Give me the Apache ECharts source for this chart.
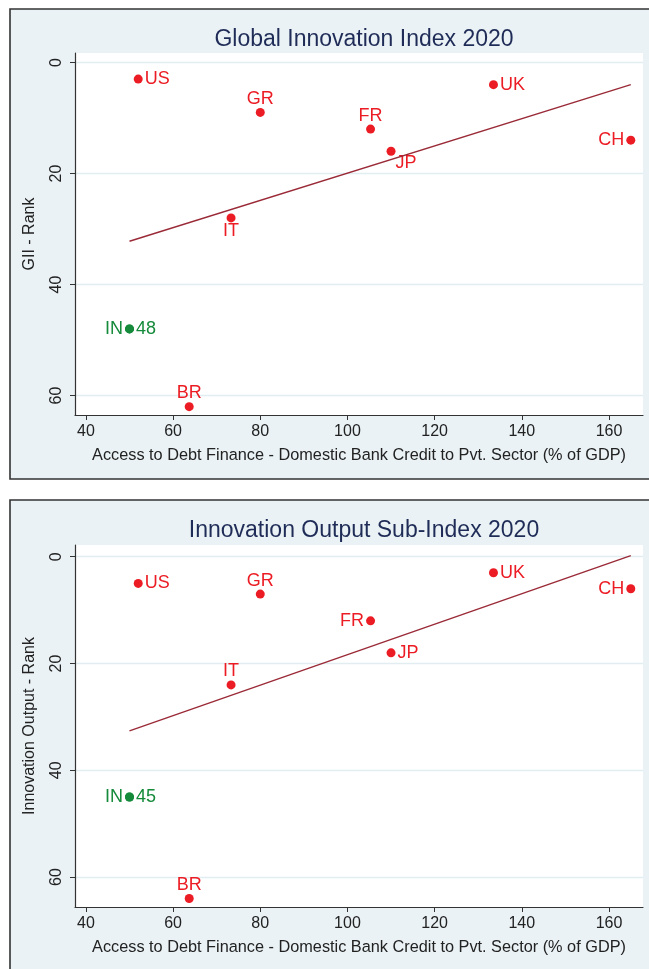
<!DOCTYPE html>
<html>
<head>
<meta charset="utf-8">
<script src="https://cdn.jsdelivr.net/npm/echarts@6/dist/echarts.min.js"></script>
<style>
html,body{margin:0;padding:0;background:#ffffff;}
#chart{width:649px;height:969px;}
</style>
</head>
<body>
<div id="chart"></div>
<script>
// ---- data ----
const countries = ['US', 'UK', 'GR', 'FR', 'JP', 'CH', 'IT', 'BR'];
const credit = [52, 133.5, 80, 105.3, 110, 165, 73.3, 63.7];
const giiRank = [3, 4, 9, 12, 16, 14, 28, 62];
const outputRank = [5, 3, 7, 12, 18, 6, 24, 64];
const indiaName = 'IN';
const indiaCredit = 50;
const indiaGii = 48;
const indiaOutput = 45;
const fitX = [50, 165];
const giiFitY = [32.2, 4.0];
const outputFitY = [32.6, -0.2];
const yTicks = [0, 20, 40, 60];
const xTicks = [40, 60, 80, 100, 120, 140, 160];
const titles = ['Global Innovation Index 2020', 'Innovation Output Sub-Index 2020'];
const yNames = ['GII - Rank', 'Innovation Output - Rank'];
const xName = 'Access to Debt Finance - Domestic Bank Credit to Pvt. Sector (% of GDP)';

// ---- styling / layout ----
const FONT = 'Liberation Sans, Arial, sans-serif';
const RED = '#ec1c24';
const GREEN = '#148a3a';
const FITC = '#9a2a37';
const LBL = 18;
const labelPos1 = {US:'right', UK:'right', GR:'top', FR:'top', JP:'jp', CH:'left', IT:'bottom', BR:'top'};
const labelPos2 = {US:'right', UK:'right', GR:'top', FR:'left', JP:'right', CH:'left', IT:'top', BR:'top'};
const panels = [
  {top: 53, height: 362, ymin: -1.7, ymax: 63.5, rank: giiRank, fit: giiFitY, india: indiaGii, pos: labelPos1, titleTop: 23},
  {top: 545, height: 362, ymin: -2.2, ymax: 65.6, rank: outputRank, fit: outputFitY, india: indiaOutput, pos: labelPos2, titleTop: 514}
];

function pointLabel(pos) {
  const base = {show: true, color: RED, fontSize: LBL, fontFamily: FONT, formatter: p => p.data.name};
  if (pos === 'jp') return Object.assign(base, {position: 'right', distance: 0, offset: [0, 12]});
  return Object.assign(base, {position: pos, distance: pos === 'top' || pos === 'bottom' ? 0 : 2});
}

const option = {
  animation: false,
  backgroundColor: 'transparent',
  graphic: [
    {type: 'rect', z: -100, shape: {x: 10, y: 9, width: 660, height: 470}, style: {fill: '#eaf2f5', stroke: '#333333', lineWidth: 1.6}},
    {type: 'rect', z: -100, shape: {x: 10, y: 500, width: 660, height: 490}, style: {fill: '#eaf2f5', stroke: '#333333', lineWidth: 1.6}}
  ],
  title: panels.map((p, i) => ({
    text: titles[i], left: 359, top: p.titleTop, textAlign: 'center',
    textStyle: {fontFamily: FONT, fontSize: 23, fontWeight: 'normal', color: '#1f2c57'}
  })),
  grid: panels.map(p => ({left: 75, top: p.top, width: 568, height: p.height, show: true, backgroundColor: '#ffffff', borderWidth: 0, containLabel: false})),
  xAxis: panels.map((p, i) => ({
    type: 'value', gridIndex: i, min: 37.5, max: 167.8,
    name: xName, nameLocation: 'middle', nameGap: 33,
    nameTextStyle: {fontFamily: FONT, fontSize: 16.3, color: '#222'},
    axisLine: {show: true, onZero: false, lineStyle: {color: '#333', width: 1.2}},
    axisTick: {show: true, length: 5, customValues: xTicks, lineStyle: {color: '#333'}},
    axisLabel: {customValues: xTicks, margin: 9, fontFamily: FONT, fontSize: 16, color: '#222'},
    splitLine: {show: false}
  })),
  yAxis: panels.map((p, i) => ({
    type: 'value', gridIndex: i, inverse: true, min: p.ymin, max: p.ymax,
    name: yNames[i], nameLocation: 'middle', nameGap: 37, nameRotate: 90,
    nameTextStyle: {fontFamily: FONT, fontSize: 16, color: '#222'},
    axisLine: {show: true, onZero: false, lineStyle: {color: '#333', width: 1.2}},
    axisTick: {show: true, length: 5, customValues: yTicks, lineStyle: {color: '#333'}},
    axisLabel: {customValues: yTicks, rotate: 90, margin: 10, fontFamily: FONT, fontSize: 16, color: '#222'},
    splitLine: {show: true, lineStyle: {color: '#e2edf2', width: 1.3}}
  })),
  series: []
};

panels.forEach((p, i) => {
  option.series.push({
    type: 'line', xAxisIndex: i, yAxisIndex: i, symbol: 'none', silent: true,
    lineStyle: {color: FITC, width: 1.4},
    data: fitX.map((x, k) => [x, p.fit[k]])
  });
  option.series.push({
    type: 'scatter', xAxisIndex: i, yAxisIndex: i, symbolSize: 9,
    itemStyle: {color: RED, opacity: 1},
    data: countries.map((c, k) => ({name: c, value: [credit[k], p.rank[k]], label: pointLabel(p.pos[c])}))
  });
  option.series.push({
    type: 'scatter', xAxisIndex: i, yAxisIndex: i, symbolSize: 9,
    itemStyle: {color: GREEN, opacity: 1},
    label: {show: true, position: 'left', distance: 2, color: GREEN, fontSize: LBL, fontFamily: FONT, formatter: () => indiaName},
    data: [[indiaCredit, p.india]]
  });
  option.series.push({
    type: 'scatter', xAxisIndex: i, yAxisIndex: i, symbolSize: 9,
    itemStyle: {color: GREEN, opacity: 1},
    label: {show: true, position: 'right', distance: 2, color: GREEN, fontSize: LBL, fontFamily: FONT, formatter: q => String(q.value[1])},
    data: [[indiaCredit, p.india]]
  });
});

const chart = echarts.init(document.getElementById('chart'), null, {renderer: 'canvas'});
chart.setOption(option);
</script>
</body>
</html>
